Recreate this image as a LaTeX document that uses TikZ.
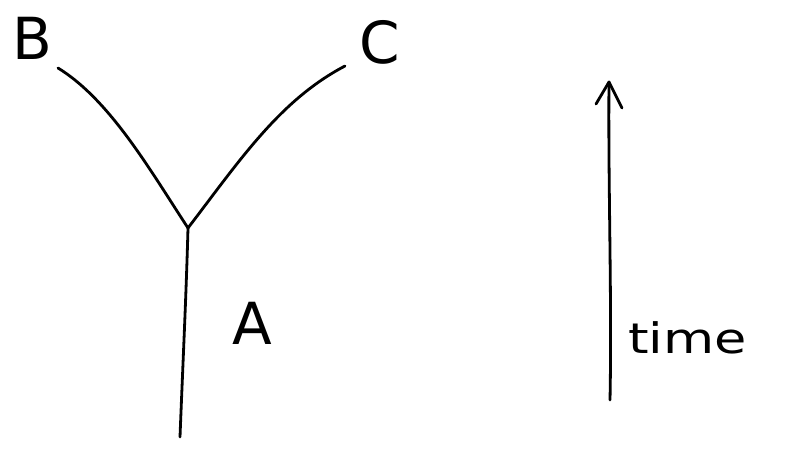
\documentclass[tikz,border=0pt]{standalone}
\usepackage{fontspec}
\setmainfont{DejaVu Sans}
\begin{document}
\begin{tikzpicture}[x=1pt,y=-1pt,
  stroke/.style={line width=2.8pt,line cap=round,line join=round,black},
  lbl/.style={font=\fontsize{58}{58}\selectfont,inner sep=0pt},
  timelbl/.style={font=\fontsize{42}{42}\selectfont,inner sep=0pt,xscale=1.25}]
\useasboundingbox (0,0) rectangle (791,457);
\coordinate (root) at (180,437);
\coordinate (junc) at (188,228);
\coordinate (bend) at (58,68);
\coordinate (cend) at (345,66);
\coordinate (tbot) at (610,400);
\coordinate (ttop) at (609,82);
\node[lbl] (B) at (32,38) {B};
\node[lbl] (C) at (380,42) {C};
\node[lbl] (A) at (252,323) {A};
\node[timelbl,anchor=west] (time) at (628,338) {time};
\draw[stroke] (root) .. controls (183,360) and (186,300) .. (junc);
\draw[stroke] (junc) .. controls (150,170) and (110,100) .. (bend);
\draw[stroke] (junc) .. controls (240,160) and (280,100) .. (cend);
\draw[stroke] (tbot) .. controls (612,300) and (608,180) .. (ttop);
\draw[stroke] (596,104) -- (ttop) -- (622,108);
\end{tikzpicture}
\end{document}
